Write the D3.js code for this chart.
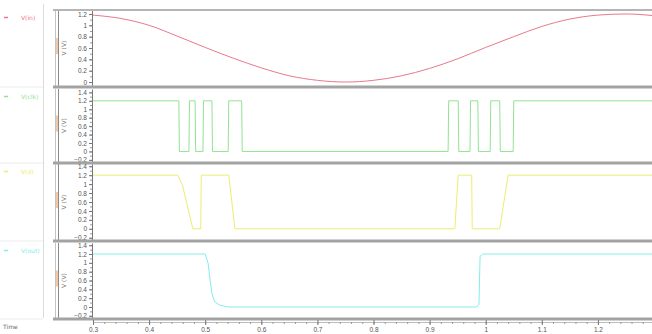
<!DOCTYPE html>
<html>
<head>
<meta charset="utf-8">
<script src="https://cdn.jsdelivr.net/npm/d3@7"></script>
<style>
  body { margin: 0; background: #fff; }
  svg { display: block; font-family: "DejaVu Sans", sans-serif; }
</style>
</head>
<body>
<div id="wave-plot"></div>
<script>
// waveform viewer: 4 stacked traces sharing one time axis
// values are read off the reference picture

// time axis tick labels
const timeTicks = [0.3, 0.4, 0.5, 0.6, 0.7, 0.8, 0.9, 1, 1.1, 1.2];

// voltage tick labels (top trace, other traces)
const voltTicksTop = [0, 0.2, 0.4, 0.6, 0.8, 1, 1.2];
const voltTicks = [-0.2, 0, 0.2, 0.4, 0.6, 0.8, 1, 1.2, 1.4];

// trace names
const traceNames = ["V(in)", "V(clk)", "V(d)", "V(out)"];

// trace 1: slow sine input
const sineTime = [0.3, 0.35, 0.4, 0.45, 0.5, 0.55, 0.6, 0.65, 0.7, 0.75, 0.8,
                  0.85, 0.9, 0.95, 1.0, 1.05, 1.1, 1.15, 1.2, 1.25, 1.3];
const sineVolt = [1.18, 1.12, 1.0, 0.81, 0.61, 0.42, 0.25, 0.11, 0.03, 0.0, 0.03,
                  0.11, 0.24, 0.41, 0.61, 0.8, 0.98, 1.11, 1.18, 1.2, 1.17];

// trace 2: pulse train
const clkTime = [0.3, 0.453, 0.454, 0.471, 0.472, 0.482, 0.483, 0.496, 0.497, 0.512, 0.513,
                 0.541, 0.542, 0.565, 0.566, 0.933, 0.934, 0.951, 0.952, 0.972, 0.973,
                 0.986, 0.987, 1.008, 1.009, 1.025, 1.026, 1.049, 1.05, 1.3];
const clkVolt = [1.2, 1.2, 0, 0, 1.2, 1.2, 0, 0, 1.2, 1.2, 0,
                 0, 1.2, 1.2, 0, 0, 1.2, 1.2, 0, 0, 1.2,
                 1.2, 0, 0, 1.2, 1.2, 0, 0, 1.2, 1.2];

// trace 3: data line
const dataTime = [0.3, 0.451, 0.459, 0.478, 0.492, 0.493, 0.542, 0.553, 0.945, 0.951,
                  0.975, 0.976, 1.025, 1.04, 1.3];
const dataVolt = [1.2, 1.2, 1.0, 0, 0, 1.2, 1.2, 0, 0, 1.2,
                  1.2, 0, 0, 1.2, 1.2];

// trace 4: output
const outTime = [0.3, 0.5, 0.505, 0.509, 0.512, 0.517, 0.526, 0.541, 0.983, 0.988, 0.99, 0.995, 1.3];
const outVolt = [1.2, 1.2, 1.0, 0.6, 0.3, 0.12, 0.04, 0, 0, 0.05, 1.15, 1.2, 1.2];

const traces = [
    { time: sineTime, volt: sineVolt, color: "#e8798c", smooth: true },
    { time: clkTime, volt: clkVolt, color: "#93e393", smooth: false },
    { time: dataTime, volt: dataVolt, color: "#eded72", smooth: false },
    { time: outTime, volt: outVolt, color: "#85ecec", smooth: false }
];

// panel geometry: pixel top / bottom and voltage domain
const panels = [
    { top: 10, bottom: 86, domain: [-0.07, 1.27], ticks: voltTicksTop },
    { top: 89, bottom: 162, domain: [-0.25, 1.48], ticks: voltTicks },
    { top: 164, bottom: 240, domain: [-0.25, 1.45], ticks: voltTicks },
    { top: 243, bottom: 318, domain: [-0.25, 1.45], ticks: voltTicks }
];

const width = 652, height = 334;
const plotLeft = 93, plotRight = 652;

const svg = d3.select("#wave-plot")
    .append("svg")
    .attr("width", width)
    .attr("height", height);

// shared time scale
const x = d3.scaleLinear().domain([0.3, 1.3]).range([plotLeft, plotLeft + 561]);

// legend column separator
svg.append("line")
    .attr("x1", 43.5).attr("x2", 43.5)
    .attr("y1", 4).attr("y2", 318)
    .attr("stroke", "#dcdcdc");

panels.forEach((p, i) => {
    const tr = traces[i];
    const y = d3.scaleLinear().domain(p.domain).range([p.bottom, p.top]);

    // clip for the trace
    svg.append("clipPath")
        .attr("id", `clip${i}`)
        .append("rect")
        .attr("x", plotLeft).attr("y", p.top)
        .attr("width", plotRight - plotLeft).attr("height", p.bottom - p.top);

    // left strip of the panel
    svg.append("line")
        .attr("x1", 55.5).attr("x2", 55.5)
        .attr("y1", p.top).attr("y2", p.bottom)
        .attr("stroke", "#c4c4c4");
    svg.append("line")
        .attr("x1", 58.5).attr("x2", 58.5)
        .attr("y1", p.top).attr("y2", p.bottom)
        .attr("stroke", "#8a8a8a");
    svg.append("rect")
        .attr("x", 56).attr("y", (p.top + p.bottom) / 2 - 10)
        .attr("width", 2).attr("height", 16)
        .attr("fill", "#f2c9a6");

    // y label
    svg.append("text")
        .attr("transform", `translate(66,${(p.top + p.bottom) / 2}) rotate(-90)`)
        .attr("text-anchor", "middle")
        .style("font-size", "6px")
        .style("fill", "#777")
        .text("V (V)");

    // y axis, minor ticks first
    svg.append("g")
        .attr("transform", `translate(${plotLeft - 1},0)`)
        .call(d3.axisLeft(y).ticks(16).tickSize(2).tickFormat(""))
        .call(g => g.select(".domain").remove())
        .selectAll("line").attr("stroke", "#999");

    const ya = svg.append("g")
        .attr("transform", `translate(${plotLeft - 1},0)`)
        .call(d3.axisLeft(y).tickValues(p.ticks).tickSize(3).tickSizeOuter(0).tickPadding(2)
            .tickFormat(d3.format("~g")));
    ya.select(".domain").attr("stroke", "#777");
    ya.selectAll("line").attr("stroke", "#777");
    ya.selectAll("text").style("font-size", "6.5px").style("fill", "#555");

    // the trace
    const data = tr.time.map((t, k) => ({ t: t, v: tr.volt[k] }));
    const line = d3.line()
        .x(d => x(d.t))
        .y(d => y(d.v))
        .curve(tr.smooth ? d3.curveMonotoneX : d3.curveLinear);

    svg.append("path")
        .datum(data)
        .attr("clip-path", `url(#clip${i})`)
        .attr("fill", "none")
        .attr("stroke", tr.color)
        .attr("stroke-width", 1)
        .attr("d", line);

    // legend entry
    svg.append("line")
        .attr("x1", 4).attr("x2", 8)
        .attr("y1", p.top + 7.5).attr("y2", p.top + 7.5)
        .attr("stroke", tr.color).attr("stroke-width", 1.5);
    svg.append("text")
        .attr("x", 21).attr("y", p.top + 10)
        .style("font-size", "6px")
        .style("fill", tr.color)
        .text(traceNames[i]);

    // legend row separator
    svg.append("line")
        .attr("x1", 0).attr("x2", 43)
        .attr("y1", p.bottom + 1).attr("y2", p.bottom + 1)
        .attr("stroke", "#ececec");

    // panel bottom border
    svg.append("line")
        .attr("x1", 53).attr("x2", plotRight)
        .attr("y1", p.bottom + 1).attr("y2", p.bottom + 1)
        .attr("stroke", "#a3a3a3")
        .attr("stroke-width", 3);
});

// top border
svg.append("line")
    .attr("x1", 53).attr("x2", plotRight)
    .attr("y1", 10).attr("y2", 10)
    .attr("stroke", "#b5b5b5")
    .attr("stroke-width", 2);

// time axis: minor then major ticks
svg.append("g")
    .attr("transform", "translate(0,322)")
    .call(d3.axisBottom(x).ticks(50).tickSize(2).tickFormat(""))
    .call(g => g.select(".domain").attr("stroke", "#bbb"))
    .selectAll("line").attr("stroke", "#999");

const xa = svg.append("g")
    .attr("transform", "translate(0,320)")
    .call(d3.axisBottom(x).tickValues(timeTicks).tickSize(5).tickSizeOuter(0).tickPadding(2)
        .tickFormat(d3.format("~g")));
xa.select(".domain").remove();
xa.selectAll("line").attr("stroke", "#777");
xa.selectAll("text").style("font-size", "6.5px").style("fill", "#555");

// time label
svg.append("text")
    .attr("x", 3).attr("y", 329)
    .style("font-size", "6px")
    .style("fill", "#666")
    .text("Time");
</script>
</body>
</html>
